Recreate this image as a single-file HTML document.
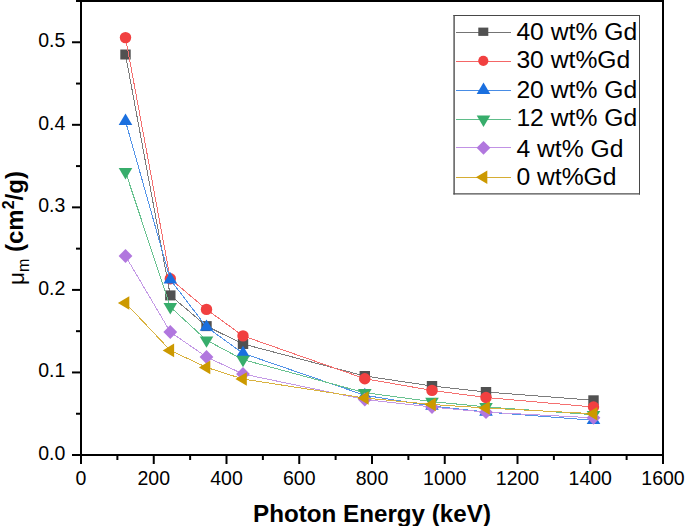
<!DOCTYPE html>
<html><head><meta charset="utf-8"><style>
html,body{margin:0;padding:0;background:#fff;width:685px;height:526px;overflow:hidden}
svg{display:block}
text{font-family:"Liberation Sans",sans-serif;fill:#000}
</style></head><body>
<svg width="685" height="526" viewBox="0 0 685 526">

<polyline points="125.50,54.50 170.30,295.40 206.50,326.10 243.00,344.00 364.80,376.00 432.00,386.00 486.00,392.00 593.50,400.30" fill="none" stroke="#7c7c7c" stroke-width="1" shape-rendering="crispEdges"/>
<rect x="120.30" y="49.50" width="10.4" height="10.0" fill="#515151"/>
<rect x="165.10" y="290.40" width="10.4" height="10.0" fill="#515151"/>
<rect x="201.30" y="321.10" width="10.4" height="10.0" fill="#515151"/>
<rect x="237.80" y="339.00" width="10.4" height="10.0" fill="#515151"/>
<rect x="359.60" y="371.00" width="10.4" height="10.0" fill="#515151"/>
<rect x="426.80" y="381.00" width="10.4" height="10.0" fill="#515151"/>
<rect x="480.80" y="387.00" width="10.4" height="10.0" fill="#515151"/>
<rect x="588.30" y="395.30" width="10.4" height="10.0" fill="#515151"/>
<polyline points="125.50,37.60 170.30,278.80 206.50,309.40 243.00,335.90 364.80,378.70 432.00,390.40 486.00,397.50 593.50,407.00" fill="none" stroke="#f47070" stroke-width="1" shape-rendering="crispEdges"/>
<circle cx="125.50" cy="37.60" r="5.7" fill="#F14040"/>
<circle cx="170.30" cy="278.80" r="5.7" fill="#F14040"/>
<circle cx="206.50" cy="309.40" r="5.7" fill="#F14040"/>
<circle cx="243.00" cy="335.90" r="5.7" fill="#F14040"/>
<circle cx="364.80" cy="378.70" r="5.7" fill="#F14040"/>
<circle cx="432.00" cy="390.40" r="5.7" fill="#F14040"/>
<circle cx="486.00" cy="397.50" r="5.7" fill="#F14040"/>
<circle cx="593.50" cy="407.00" r="5.7" fill="#F14040"/>
<polyline points="125.50,121.10 170.30,279.60 206.50,327.00 243.00,353.30 364.80,395.30 432.00,406.00 486.00,412.00 593.50,420.30" fill="none" stroke="#5393e7" stroke-width="1" shape-rendering="crispEdges"/>
<polygon points="125.50,113.50 132.30,124.90 118.70,124.90" fill="#1A6FDF"/>
<polygon points="170.30,272.00 177.10,283.40 163.50,283.40" fill="#1A6FDF"/>
<polygon points="206.50,319.40 213.30,330.80 199.70,330.80" fill="#1A6FDF"/>
<polygon points="243.00,345.70 249.80,357.10 236.20,357.10" fill="#1A6FDF"/>
<polygon points="364.80,387.70 371.60,399.10 358.00,399.10" fill="#1A6FDF"/>
<polygon points="432.00,398.40 438.80,409.80 425.20,409.80" fill="#1A6FDF"/>
<polygon points="486.00,404.40 492.80,415.80 479.20,415.80" fill="#1A6FDF"/>
<polygon points="593.50,412.70 600.30,424.10 586.70,424.10" fill="#1A6FDF"/>
<polyline points="125.50,171.80 170.30,306.90 206.50,340.20 243.00,359.60 364.80,392.70 432.00,401.60 486.00,406.90 593.50,414.70" fill="none" stroke="#69c290" stroke-width="1" shape-rendering="crispEdges"/>
<polygon points="118.70,168.00 132.30,168.00 125.50,179.40" fill="#37AD6B"/>
<polygon points="163.50,303.10 177.10,303.10 170.30,314.50" fill="#37AD6B"/>
<polygon points="199.70,336.40 213.30,336.40 206.50,347.80" fill="#37AD6B"/>
<polygon points="236.20,355.80 249.80,355.80 243.00,367.20" fill="#37AD6B"/>
<polygon points="358.00,388.90 371.60,388.90 364.80,400.30" fill="#37AD6B"/>
<polygon points="425.20,397.80 438.80,397.80 432.00,409.20" fill="#37AD6B"/>
<polygon points="479.20,403.10 492.80,403.10 486.00,414.50" fill="#37AD6B"/>
<polygon points="586.70,410.90 600.30,410.90 593.50,422.30" fill="#37AD6B"/>
<polyline points="125.50,256.00 170.30,332.00 206.50,357.00 243.00,374.00 364.80,399.50 432.00,407.00 486.00,412.20 593.50,417.80" fill="none" stroke="#c499e6" stroke-width="1" shape-rendering="crispEdges"/>
<polygon points="125.50,249.10 132.40,256.00 125.50,262.90 118.60,256.00" fill="#B177DE"/>
<polygon points="170.30,325.10 177.20,332.00 170.30,338.90 163.40,332.00" fill="#B177DE"/>
<polygon points="206.50,350.10 213.40,357.00 206.50,363.90 199.60,357.00" fill="#B177DE"/>
<polygon points="243.00,367.10 249.90,374.00 243.00,380.90 236.10,374.00" fill="#B177DE"/>
<polygon points="364.80,392.60 371.70,399.50 364.80,406.40 357.90,399.50" fill="#B177DE"/>
<polygon points="432.00,400.10 438.90,407.00 432.00,413.90 425.10,407.00" fill="#B177DE"/>
<polygon points="486.00,405.30 492.90,412.20 486.00,419.10 479.10,412.20" fill="#B177DE"/>
<polygon points="593.50,410.90 600.40,417.80 593.50,424.70 586.60,417.80" fill="#B177DE"/>
<polyline points="125.50,303.00 170.30,350.40 206.50,367.40 243.00,379.00 364.80,398.00 432.00,404.50 486.00,408.00 593.50,413.70" fill="none" stroke="#d9b240" stroke-width="1" shape-rendering="crispEdges"/>
<polygon points="117.90,303.00 129.30,296.20 129.30,309.80" fill="#CC9900"/>
<polygon points="162.70,350.40 174.10,343.60 174.10,357.20" fill="#CC9900"/>
<polygon points="198.90,367.40 210.30,360.60 210.30,374.20" fill="#CC9900"/>
<polygon points="235.40,379.00 246.80,372.20 246.80,385.80" fill="#CC9900"/>
<polygon points="357.20,398.00 368.60,391.20 368.60,404.80" fill="#CC9900"/>
<polygon points="424.40,404.50 435.80,397.70 435.80,411.30" fill="#CC9900"/>
<polygon points="478.40,408.00 489.80,401.20 489.80,414.80" fill="#CC9900"/>
<polygon points="585.90,413.70 597.30,406.90 597.30,420.50" fill="#CC9900"/>
<g stroke="#000" stroke-width="2" fill="none">
<line x1="80" y1="455" x2="664" y2="455"/>
<line x1="81" y1="0" x2="81" y2="456"/>
<line x1="663" y1="0" x2="663" y2="464"/>
<line x1="76" y1="1" x2="664" y2="1"/>
<line x1="81.00" y1="455" x2="81.00" y2="464"/>
<line x1="153.75" y1="455" x2="153.75" y2="464"/>
<line x1="226.50" y1="455" x2="226.50" y2="464"/>
<line x1="299.25" y1="455" x2="299.25" y2="464"/>
<line x1="372.00" y1="455" x2="372.00" y2="464"/>
<line x1="444.75" y1="455" x2="444.75" y2="464"/>
<line x1="517.50" y1="455" x2="517.50" y2="464"/>
<line x1="590.25" y1="455" x2="590.25" y2="464"/>
<line x1="663.00" y1="455" x2="663.00" y2="464"/>
<line x1="117.38" y1="455" x2="117.38" y2="460"/>
<line x1="190.12" y1="455" x2="190.12" y2="460"/>
<line x1="262.88" y1="455" x2="262.88" y2="460"/>
<line x1="335.62" y1="455" x2="335.62" y2="460"/>
<line x1="408.38" y1="455" x2="408.38" y2="460"/>
<line x1="481.12" y1="455" x2="481.12" y2="460"/>
<line x1="553.88" y1="455" x2="553.88" y2="460"/>
<line x1="626.62" y1="455" x2="626.62" y2="460"/>
<line x1="72" y1="455.00" x2="81" y2="455.00"/>
<line x1="72" y1="372.45" x2="81" y2="372.45"/>
<line x1="72" y1="289.91" x2="81" y2="289.91"/>
<line x1="72" y1="207.36" x2="81" y2="207.36"/>
<line x1="72" y1="124.82" x2="81" y2="124.82"/>
<line x1="72" y1="42.27" x2="81" y2="42.27"/>
<line x1="76" y1="413.73" x2="81" y2="413.73"/>
<line x1="76" y1="331.18" x2="81" y2="331.18"/>
<line x1="76" y1="248.64" x2="81" y2="248.64"/>
<line x1="76" y1="166.09" x2="81" y2="166.09"/>
<line x1="76" y1="83.55" x2="81" y2="83.55"/>
<line x1="76" y1="1.00" x2="81" y2="1.00"/>
</g>
<g font-size="19.5" text-anchor="middle">
<text x="81.00" y="485">0</text>
<text x="153.75" y="485">200</text>
<text x="226.50" y="485">400</text>
<text x="299.25" y="485">600</text>
<text x="372.00" y="485">800</text>
<text x="444.75" y="485">1000</text>
<text x="517.50" y="485">1200</text>
<text x="590.25" y="485">1400</text>
<text x="663.00" y="485">1600</text>
</g>
<g font-size="19.5" text-anchor="end">
<text x="65.3" y="459.80">0.0</text>
<text x="65.3" y="377.25">0.1</text>
<text x="65.3" y="294.71">0.2</text>
<text x="65.3" y="212.16">0.3</text>
<text x="65.3" y="129.62">0.4</text>
<text x="65.3" y="47.07">0.5</text>
</g>
<text x="372" y="521.6" font-size="24.2" font-weight="bold" text-anchor="middle">Photon Energy (keV)</text>
<text transform="translate(23,228) rotate(-90)" text-anchor="middle" font-size="24" font-weight="bold"><tspan font-weight="normal" font-size="22.5" dy="1.3">μ</tspan><tspan font-weight="normal" font-size="16" dy="4.7">m</tspan><tspan dy="-6"> (cm</tspan><tspan font-size="16" dy="-9">2</tspan><tspan dy="9">/g)</tspan></text>
<rect x="454" y="15" width="186" height="179" fill="#fff"/>
<line x1="453.4" y1="15.5" x2="640" y2="15.5" stroke="#484848" stroke-width="1"/>
<line x1="639.5" y1="15" x2="639.5" y2="194.6" stroke="#484848" stroke-width="1"/>
<line x1="454.1" y1="15" x2="454.1" y2="194.6" stroke="#4e4e4e" stroke-width="1.4"/>
<line x1="453.4" y1="193.9" x2="640" y2="193.9" stroke="#4e4e4e" stroke-width="1.4"/>
<line x1="456" y1="32.5" x2="511" y2="32.5" stroke="#747474" stroke-width="1" shape-rendering="crispEdges"/>
<rect x="478.3" y="27.6" width="10" height="8.3" fill="#515151"/>
<text x="516.4" y="39.50" font-size="24.7">40 wt% Gd</text>
<line x1="456" y1="61.5" x2="511" y2="61.5" stroke="#f46666" stroke-width="1" shape-rendering="crispEdges"/>
<circle cx="483.3" cy="60.80" r="5.1" fill="#F14040"/>
<text x="516.4" y="68.20" font-size="24.7">30 wt%Gd</text>
<line x1="456" y1="90.5" x2="511" y2="90.5" stroke="#488ce5" stroke-width="1" shape-rendering="crispEdges"/>
<polygon points="483.50,82.60 490.30,94.00 476.70,94.00" fill="#1A6FDF"/>
<text x="516.4" y="97.70" font-size="24.7">20 wt% Gd</text>
<line x1="456" y1="119.5" x2="511" y2="119.5" stroke="#5fbd89" stroke-width="1" shape-rendering="crispEdges"/>
<polygon points="476.70,115.50 490.30,115.50 483.50,126.90" fill="#37AD6B"/>
<text x="516.4" y="126.30" font-size="24.7">12 wt% Gd</text>
<line x1="456" y1="147.5" x2="511" y2="147.5" stroke="#c192e5" stroke-width="1" shape-rendering="crispEdges"/>
<polygon points="483.50,140.90 490.40,147.80 483.50,154.70 476.60,147.80" fill="#B177DE"/>
<text x="516.4" y="156.50" font-size="24.7">4 wt% Gd</text>
<line x1="456" y1="177.5" x2="511" y2="177.5" stroke="#d6ad33" stroke-width="1" shape-rendering="crispEdges"/>
<polygon points="475.90,177.30 487.30,170.50 487.30,184.10" fill="#CC9900"/>
<text x="516.4" y="184.80" font-size="24.7">0 wt%Gd</text>
</svg></body></html>
